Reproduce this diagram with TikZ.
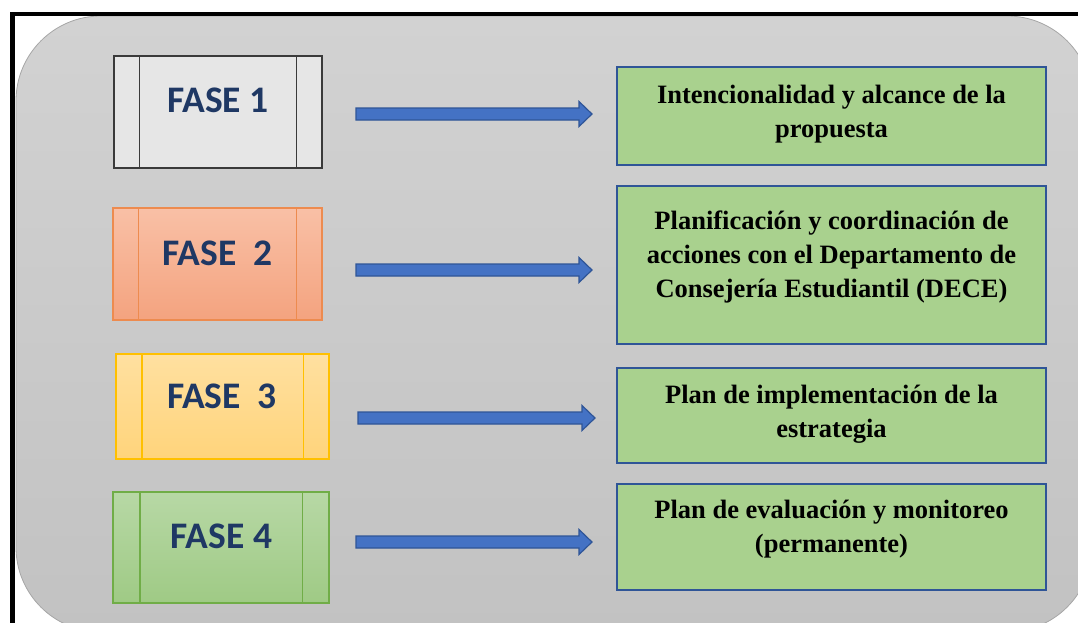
\documentclass[tikz,border=0pt]{standalone}
\usepackage{fontspec}
\setmainfont{Liberation Serif}
\newfontfamily\calibrifont{Carlito}
\usetikzlibrary{calc}
\definecolor{bgtop}{HTML}{D2D2D2}
\definecolor{bgbot}{HTML}{C2C2C2}
\definecolor{bgedge}{HTML}{A6A6A6}
\definecolor{fasetxt}{HTML}{1F3864}
\definecolor{f1fill}{HTML}{E6E6E6}
\definecolor{f1line}{HTML}{3A3A3A}
\definecolor{f2top}{HTML}{F9C0A6}
\definecolor{f2bot}{HTML}{F4A37F}
\definecolor{f2line}{HTML}{ED8B4F}
\definecolor{f3top}{HTML}{FFE0A0}
\definecolor{f3bot}{HTML}{FFD47B}
\definecolor{f3line}{HTML}{FFC000}
\definecolor{f4top}{HTML}{B7D8A5}
\definecolor{f4bot}{HTML}{9FCA85}
\definecolor{f4line}{HTML}{70AD47}
\definecolor{gfill}{HTML}{A9D18E}
\definecolor{gline}{HTML}{2F5597}
\definecolor{afill}{HTML}{4472C4}
\definecolor{aline}{HTML}{2F5597}
\tikzset{
  fasebox/.style={rectangle, line width=1.2pt, inner sep=0pt},
  fasetext/.style={font=\calibrifont\bfseries\fontsize{37.5}{40}\selectfont, text=fasetxt, inner sep=0pt, anchor=base},
  greenbox/.style={rectangle, draw=gline, fill=gfill, line width=1.8pt, minimum width=429pt, inner sep=0pt},
  greentext/.style={font=\bfseries\fontsize{26.5}{34}\selectfont, align=center, inner sep=0pt, anchor=base},
  blockarrow/.style={fill=afill, draw=aline, line width=1.2pt, line join=miter}
}
\newcommand{\sidelines}[3]{%
  \draw[#3, line width=1.2pt] ($(#1.north west)+(#2,0)$) -- ($(#1.south west)+(#2,0)$);
  \draw[#3, line width=1.2pt] ($(#1.north east)+(-#2,0)$) -- ($(#1.south east)+(-#2,0)$);}
\newcommand{\blockarr}[2]{%
  \path[blockarrow] ($(#1)+(0,-6)$) -- ($(#2)+(-13,-6)$) -- ($(#2)+(-13,-12.5)$) -- (#2)
    -- ($(#2)+(-13,12.5)$) -- ($(#2)+(-13,6)$) -- ($(#1)+(0,6)$) -- cycle;}
\begin{document}
\begin{tikzpicture}[x=1pt,y=-1pt]
\useasboundingbox (0,0) rectangle (1078,622);
\clip (0,0) rectangle (1078,622);
\fill[white] (0,0) rectangle (1078,622);
% background panel
\path[top color=bgtop, bottom color=bgbot, draw=bgedge, line width=0.8pt, rounded corners=85pt] (16,16) rectangle (1092,632);
% frame
\draw[line width=4.5pt, line join=miter] (12.5,640) -- (12.5,14) -- (1090,14);

% phase boxes
\node[fasebox, draw=f1line, fill=f1fill, minimum width=208pt, minimum height=112pt] (f1) at (218,112) {};
\node[fasebox, draw=f2line, top color=f2top, bottom color=f2bot, minimum width=209pt, minimum height=112pt] (f2) at (217.5,264) {};
\node[fasebox, draw=f3line, top color=f3top, bottom color=f3bot, minimum width=213pt, minimum height=105pt] (f3) at (222.5,406.5) {};
\node[fasebox, draw=f4line, top color=f4top, bottom color=f4bot, minimum width=216pt, minimum height=111pt] (f4) at (221,547.5) {};
\sidelines{f1}{26}{f1line}
\sidelines{f2}{26}{f2line}
\sidelines{f3}{26.5}{f3line}
\sidelines{f4}{27.5}{f4line}
\node[fasetext] (t1) at (218,112) {FASE 1};
\node[fasetext] (t2) at (217.5,265) {FASE\ \ 2};
\node[fasetext] (t3) at (222,408) {FASE\ \ 3};
\node[fasetext] (t4) at (221.5,548) {FASE 4};

% result boxes
\node[greenbox, minimum height=98pt] (g1) at (831.5,116) {};
\node[greenbox, minimum height=158pt] (g2) at (831.5,265) {};
\node[greenbox, minimum height=95pt] (g3) at (831.5,415.5) {};
\node[greenbox, minimum height=106pt] (g4) at (831.5,537) {};
\node[greentext] (r1) at (831.5,137) {Intencionalidad y alcance de la\\propuesta};
\node[greentext] (r2) at (831.5,297) {Planificación y coordinación de\\acciones con el Departamento de\\Consejería Estudiantil (DECE)};
\node[greentext] (r3) at (831.5,437) {Plan de implementación de la\\estrategia};
\node[greentext] (r4) at (831.5,552) {Plan de evaluación y monitoreo\\(permanente)};

% arrows
\coordinate (a1s) at (356,114); \coordinate (a1e) at (592,114);
\coordinate (a2s) at (356,270); \coordinate (a2e) at (592,270);
\coordinate (a3s) at (358,418); \coordinate (a3e) at (595,418);
\coordinate (a4s) at (356,542); \coordinate (a4e) at (592,542);
\blockarr{a1s}{a1e}
\blockarr{a2s}{a2e}
\blockarr{a3s}{a3e}
\blockarr{a4s}{a4e}
\end{tikzpicture}
\end{document}
